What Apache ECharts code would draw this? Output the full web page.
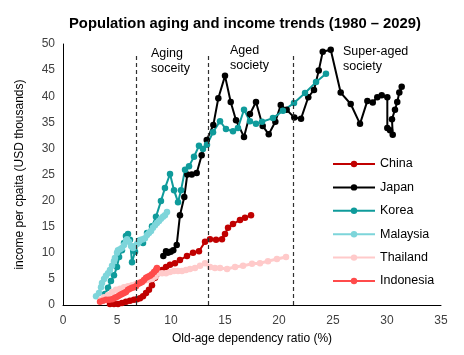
<!DOCTYPE html>
<html>
<head>
<meta charset="utf-8">
<script src="https://cdn.jsdelivr.net/npm/echarts@6/dist/echarts.min.js"></script>
<style>html,body{margin:0;padding:0;background:#fff}#c{width:464px;height:355px}</style>
</head>
<body>
<div id="c"></div>
<script>
// [old-age dependency ratio %, income per capita USD thousands]
var china = [[4.35,0.2],[4.72,0.2],[5.09,0.2],[5.46,0.4],[5.83,0.6],[6.2,0.8],[6.57,1.0],[6.85,1.1],[7.13,1.3],[7.41,1.7],[7.69,2.3],[7.96,2.9],[8.24,3.8],[8.52,5.2],[8.8,6.1],[9.17,6.7],[9.54,7.3],[9.91,7.7],[10.37,8.0],[10.83,8.6],[11.48,9.4],[12.04,10.0],[12.59,10.3],[13.15,12.1],[13.61,12.6],[14.17,12.5],[14.72,12.6],[15.0,13.6],[15.28,14.8],[15.74,15.5],[16.39,16.3],[16.85,16.7],[17.41,17.2]];
var japan = [[9.29,9.4],[9.54,10.3],[9.72,10.0],[9.97,10.2],[10.21,10.5],[10.53,11.5],[10.83,17.2],[11.23,20.7],[11.51,25.0],[11.92,25.0],[12.38,25.3],[12.84,28.7],[13.31,31.6],[13.92,34.5],[14.38,39.6],[15.0,43.9],[15.53,38.9],[16.02,35.4],[16.76,32.2],[17.31,36.6],[17.87,38.9],[18.49,34.3],[19.05,32.7],[19.66,35.1],[20.16,38.3],[20.71,37.4],[21.42,35.9],[22.04,35.7],[22.71,39.8],[23.24,41.2],[23.68,44.9],[24.05,48.5],[24.79,48.9],[25.71,40.7],[26.64,38.5],[27.5,34.7],[28.18,39.1],[28.68,38.8],[29.1,39.8],[29.51,40.2],[30.03,39.8],[30.03,33.9],[30.28,33.5],[30.53,32.6],[30.46,35.6],[30.74,37.4],[30.95,38.9],[31.14,40.7],[31.36,41.8]];
var korea = [[3.89,2.1],[4.17,3.3],[4.44,4.6],[4.72,5.7],[5.0,7.3],[5.19,9.2],[5.46,10.5],[5.65,11.9],[5.83,13.2],[6.02,13.6],[6.2,12.5],[6.39,8.2],[6.67,10.2],[7.04,12.3],[7.41,11.9],[7.78,13.8],[8.24,15.1],[8.61,16.9],[9.07,19.9],[9.44,22.4],[9.91,25.1],[10.28,22.0],[10.65,19.7],[10.93,22.0],[11.3,25.9],[11.67,26.6],[12.13,28.4],[12.59,30.5],[12.96,29.9],[13.33,30.7],[13.89,33.1],[14.54,35.2],[15.09,33.7],[15.74,33.3],[16.2,33.9],[16.76,37.4],[17.31,35.2],[17.87,34.7],[18.43,35.1],[19.44,35.8],[20.37,37.2],[21.39,38.7],[22.41,40.6],[23.43,42.7],[24.35,44.3]];
var malaysia = [[3.06,1.7],[3.33,2.3],[3.52,3.4],[3.61,4.2],[3.8,5.0],[3.98,5.6],[4.17,6.1],[4.35,6.7],[4.54,7.5],[4.72,8.4],[4.81,9.0],[5.0,10.0],[5.09,10.5],[5.28,10.7],[5.46,10.9],[5.65,11.5],[5.83,12.3],[5.93,12.6],[6.11,12.1],[6.3,11.3],[6.48,10.9],[6.67,11.3],[6.85,11.7],[7.04,12.1],[7.22,12.5],[7.41,12.6],[7.59,12.8],[7.78,13.4],[7.96,13.8],[8.15,14.2],[8.33,14.8],[8.52,15.3],[8.7,15.7],[8.89,16.1],[9.07,16.5],[9.26,16.9],[9.44,17.2],[9.63,17.8]];
var thailand = [[3.52,1.0],[3.8,1.5],[4.17,1.9],[4.54,2.5],[4.91,2.9],[5.28,3.1],[5.65,3.4],[6.02,3.6],[6.39,3.8],[6.76,4.0],[7.13,4.4],[7.5,4.6],[7.87,4.8],[8.24,5.0],[8.52,5.4],[8.8,6.1],[9.17,6.1],[9.54,6.1],[9.91,6.3],[10.28,6.5],[10.65,6.5],[11.02,6.5],[11.39,6.7],[11.76,6.9],[12.22,7.1],[12.69,7.5],[13.15,8.0],[13.61,7.3],[14.07,7.1],[14.54,7.1],[15.19,6.9],[15.93,7.3],[16.67,7.5],[17.5,7.9],[18.24,8.0],[18.98,8.4],[19.81,8.8],[20.65,9.2]];
var indonesia = [[3.43,0.6],[3.7,0.8],[3.98,1.0],[4.26,1.0],[4.54,1.1],[4.72,1.3],[4.91,1.5],[5.09,1.7],[5.28,1.9],[5.46,2.1],[5.65,2.3],[5.83,2.5],[6.02,2.9],[6.2,3.1],[6.39,3.3],[6.57,3.4],[6.76,3.6],[6.94,4.0],[7.13,4.2],[7.31,4.4],[7.5,4.8],[7.69,5.2],[7.87,5.4],[8.06,5.6],[8.24,5.9],[8.43,6.3],[8.61,6.7],[8.7,7.1]];
var stageThresholds = [6.75, 13.45, 21.3];
var stageTop = 48;
var stageLabels = ["Aging\nsoceity", "Aged\nsociety", "Super-aged\nsociety"];
var xTicks = {min: 0, max: 35, interval: 5};
var yTicks = {min: 0, max: 50, interval: 5};

var FONT = '"Liberation Sans", Arial, sans-serif';
var chart = echarts.init(document.getElementById('c'), null, {renderer: 'canvas'});

function mk(name, data, color, width, sym) {
  return {
    name: name, type: 'line', data: data,
    symbol: 'circle', symbolSize: sym, showSymbol: true,
    itemStyle: {color: color}, lineStyle: {color: color, width: width},
    emphasis: {disabled: true}, z: 3
  };
}
var series = [
  mk('China', china, '#c00000', 2, 6.5),
  mk('Japan', japan, '#000000', 2, 6.5),
  mk('Korea', korea, '#0f9b9b', 2, 6.5),
  mk('Malaysia', malaysia, '#7dd5da', 3, 6.5),
  mk('Thailand', thailand, '#ffcaca', 3, 6.5),
  mk('Indonesia', indonesia, '#ff4b4b', 3, 6.5)
];
series.push({
  name: 'stages', type: 'line', data: [], silent: true,
  markLine: {
    silent: true, symbol: ['none', 'none'], label: {show: false},
    lineStyle: {color: '#303030', type: [4, 3], width: 1.2},
    data: stageThresholds.map(function (t) { return [{coord: [t, 0]}, {coord: [t, stageTop]}]; })
  }
});

chart.setOption({
  animation: false,
  backgroundColor: '#fff',
  title: {
    text: 'Population aging and income trends (1980 – 2029)',
    left: 64, top: 11,
    textStyle: {fontFamily: FONT, fontSize: 14.8, fontWeight: 'bold', color: '#000'}
  },
  grid: {left: 63, right: 23, top: 44, bottom: 50, containLabel: false},
  xAxis: {
    type: 'value', min: xTicks.min, max: xTicks.max, interval: xTicks.interval,
    name: 'Old-age dependency ratio (%)', nameLocation: 'middle', nameGap: 28,
    nameTextStyle: {fontFamily: FONT, fontSize: 12, color: '#000'},
    axisLine: {show: true, onZero: false, lineStyle: {color: '#000', width: 1}},
    axisTick: {show: false}, splitLine: {show: false},
    axisLabel: {fontFamily: FONT, fontSize: 12, color: '#404040', margin: 10}
  },
  yAxis: {
    type: 'value', min: yTicks.min, max: yTicks.max, interval: yTicks.interval,
    name: 'income per cpaita (USD thousands)', nameLocation: 'middle', nameGap: 37,
    nameRotate: 90,
    nameTextStyle: {fontFamily: FONT, fontSize: 12, color: '#000'},
    axisLine: {show: true, lineStyle: {color: '#000', width: 1}},
    axisTick: {show: false}, splitLine: {show: false},
    axisLabel: {fontFamily: FONT, fontSize: 12, color: '#404040', margin: 8}
  },
  legend: {
    data: ['China', 'Japan', 'Korea', 'Malaysia', 'Thailand', 'Indonesia'],
    orient: 'vertical', left: 327, top: 152,
    itemWidth: 42, itemHeight: 8, itemGap: 9.4,
    textStyle: {fontFamily: FONT, fontSize: 12.5, color: '#000', lineHeight: 14}
  },
  graphic: [
    {type: 'text', left: 151, top: 46, style: {text: stageLabels[0], font: '12.5px ' + FONT, fill: '#000', lineHeight: 15}},
    {type: 'text', left: 230, top: 43, style: {text: stageLabels[1], font: '12.5px ' + FONT, fill: '#000', lineHeight: 15}},
    {type: 'text', left: 343, top: 44, style: {text: stageLabels[2], font: '12.5px ' + FONT, fill: '#000', lineHeight: 15}}
  ],
  series: series
});
</script>
</body>
</html>
